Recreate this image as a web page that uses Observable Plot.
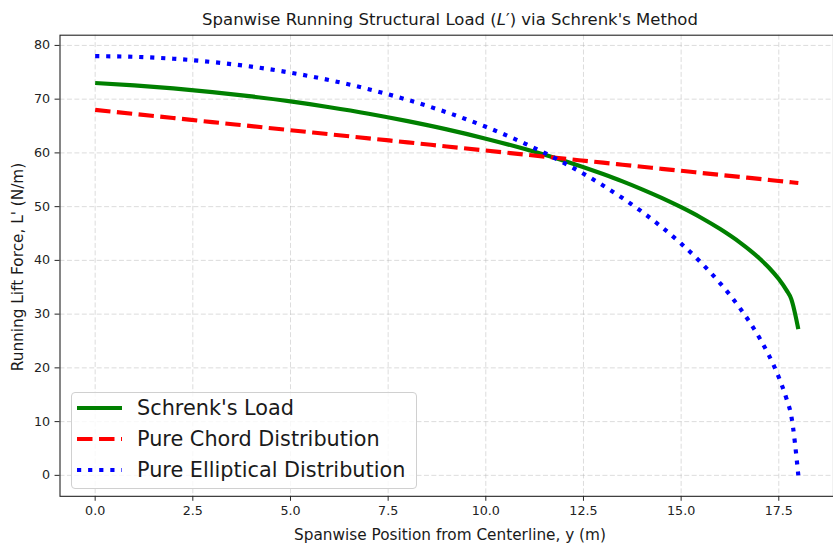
<!DOCTYPE html>
<html>
<head>
<meta charset="utf-8">
<script src="https://cdn.jsdelivr.net/npm/d3@7"></script>
<script src="https://cdn.jsdelivr.net/npm/@observablehq/plot@0.6"></script>
<style>
  html, body { margin: 0; padding: 0; background: #fff; }
  #wrap { position: relative; width: 833px; height: 546px; overflow: hidden; font-family: "DejaVu Sans", sans-serif; color: #1a1a1a; }
  #wrap > svg { position: absolute; left: 0; top: 0; }
  .title { position: absolute; left: 0; width: 900px; top: 10px; text-align: center; font-size: 16.5px; white-space: nowrap; }
  .xlabel { position: absolute; left: 0; width: 900px; top: 526px; text-align: center; font-size: 15.3px; white-space: nowrap; line-height: 18px; }
  .ylabel { position: absolute; left: 18px; top: 267px; transform: translate(-50%, -50%) rotate(-90deg); font-size: 15.3px; white-space: nowrap; }
  .legend { position: absolute; left: 71px; top: 392px; width: 346px; height: 97px; box-sizing: border-box;
            border: 1px solid #d0d0d0; border-radius: 4px; background: rgba(255,255,255,0.8); }
  .legend .row { position: absolute; left: 0; height: 26px; display: flex; align-items: center; font-size: 20.8px; white-space: nowrap; }
  .legend .swatch { display: block; margin-left: 5px; margin-right: 15px; }
</style>
</head>
<body>
<div id="wrap"></div>
<script>
// Spanwise stations (m) and the running load at each station (N/m)
const spanY = [0, 1, 2, 3, 4, 5, 6, 7, 8, 9, 10, 11, 12, 13, 13.5, 14, 14.5, 15, 15.5, 16, 16.5, 17, 17.25, 17.5, 17.7, 17.82, 18];
const schrenkLoad = [73, 72.56, 72.0, 71.32, 70.51, 69.58, 68.5, 67.29, 65.91, 64.38, 62.65, 60.71, 58.53, 56.06, 54.70, 53.22, 51.63, 49.89, 47.98, 45.82, 43.35, 40.4, 38.63, 36.52, 34.41, 32.8, 27.2];
const chordLoad = [68, 67.24, 66.49, 65.73, 64.98, 64.22, 63.47, 62.71, 61.96, 61.2, 60.44, 59.69, 58.93, 58.18, 57.8, 57.42, 57.04, 56.67, 56.29, 55.91, 55.53, 55.16, 54.97, 54.78, 54.63, 54.54, 54.4];
const ellipticalLoad = [78, 77.88, 77.52, 76.91, 76.05, 74.93, 73.54, 71.86, 69.87, 67.55, 64.86, 61.74, 58.14, 53.95, 51.59, 49.03, 46.22, 43.12, 39.66, 35.73, 31.17, 25.64, 22.28, 18.26, 14.18, 11.06, 0];

const xTicks = [0, 2.5, 5, 7.5, 10, 12.5, 15, 17.5];
const yTicks = [0, 10, 20, 30, 40, 50, 60, 70, 80];

const series = [
  {name: "Schrenk's Load", values: schrenkLoad, color: "green", dash: null},
  {name: "Pure Chord Distribution", values: chordLoad, color: "red", dash: "15.5,6.5"},
  {name: "Pure Elliptical Distribution", values: ellipticalLoad, color: "blue", dash: "4.2,6.9"}
];

const lineMarks = series.map(s =>
  Plot.line(spanY.map((y, i) => ({y, load: s.values[i]})), {
    x: "y", y: "load", stroke: s.color, strokeWidth: 4.2,
    strokeDasharray: s.dash, strokeLinecap: "butt", curve: "monotone-x"
  })
);

const gridStyle = {stroke: "#b0b0b0", strokeOpacity: 0.45, strokeWidth: 1, strokeDasharray: "5,2.5"};

const chart = Plot.plot({
  width: 840, height: 546,
  marginLeft: 60, marginRight: 0, marginTop: 35, marginBottom: 46,
  x: {domain: [-0.9, 18.9]},
  y: {domain: [-3.9, 81.9]},
  style: {fontFamily: "DejaVu Sans", fontSize: "12.8px", color: "#222", background: "transparent", overflow: "visible"},
  marks: [
    Plot.gridX(xTicks, gridStyle),
    Plot.gridY(yTicks, gridStyle),
    ...lineMarks,
    Plot.frame({stroke: "#222", strokeWidth: 1.1}),
    Plot.axisX(xTicks, {tickSize: 5, tickPadding: 5, tickFormat: d3.format(".1f"), label: null, stroke: "#222"}),
    Plot.axisY(yTicks, {tickSize: 5, tickPadding: 5, label: null, stroke: "#222"})
  ]
});

const wrap = document.getElementById("wrap");
wrap.appendChild(chart);

const title = document.createElement("div");
title.className = "title";
title.innerHTML = "Spanwise Running Structural Load (<i>L</i>\u2032) via Schrenk's Method";
wrap.appendChild(title);

const xl = document.createElement("div");
xl.className = "xlabel";
xl.textContent = "Spanwise Position from Centerline, y (m)";
wrap.appendChild(xl);

const yl = document.createElement("div");
yl.className = "ylabel";
yl.textContent = "Running Lift Force, L' (N/m)";
wrap.appendChild(yl);

// legend box
const legend = document.createElement("div");
legend.className = "legend";
series.forEach((s, i) => {
  const row = document.createElement("div");
  row.className = "row";
  row.style.top = (2 + i * 31) + "px";
  const sw = d3.create("svg").attr("class", "swatch").attr("width", 45).attr("height", 10);
  sw.append("line").attr("x1", 0).attr("x2", 45).attr("y1", 5).attr("y2", 5)
    .attr("stroke", s.color).attr("stroke-width", 4.2)
    .attr("stroke-dasharray", s.dash).attr("stroke-linecap", "butt");
  row.appendChild(sw.node());
  const t = document.createElement("span");
  t.textContent = s.name;
  row.appendChild(t);
  legend.appendChild(row);
});
wrap.appendChild(legend);
</script>
</body>
</html>
